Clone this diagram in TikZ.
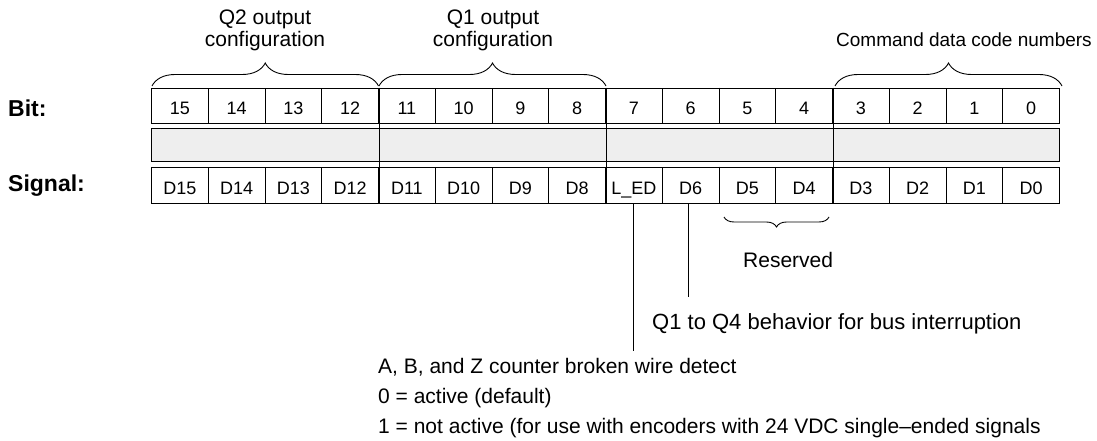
\documentclass[tikz,border=0pt]{standalone}
\usepackage{fontspec}
\setmainfont{Liberation Sans}
\usetikzlibrary{decorations.pathreplacing}
\definecolor{barfill}{HTML}{EEEEEE}
\begin{document}
\begin{tikzpicture}[x=1pt,y=-1pt,
  cell/.style={draw, line width=0.9pt, minimum width=56.75pt, minimum height=35pt, inner sep=0pt,
    text height=19pt, text depth=0pt, font=\fontsize{18}{20}\selectfont},
  rowlab/.style={inner sep=0pt, anchor=base west, font=\bfseries\fontsize{23}{24}\selectfont},
  toplab/.style={inner sep=0pt, align=center, anchor=south, font=\fontsize{21}{22}\selectfont},
  txt/.style={inner sep=0pt, anchor=base west, font=\fontsize{21}{22}\selectfont},
  brc/.style={decorate, decoration={brace, amplitude=#1}, line width=0.9pt},
  rule/.style={line width=0.9pt}]
\useasboundingbox (0,0) rectangle (1097,441);

% row labels
\node[rowlab] (bitlab) at (8,117) {Bit:};
\node[rowlab] (siglab) at (8,191) {Signal:};

% gray bar
\node[draw, line width=0.9pt, fill=barfill, minimum width=908pt, minimum height=33pt, inner sep=0pt] (bar) at (605.5,144.5) {};

% bit cells and signal cells
\foreach \b/\t [count=\k from 0] in {15/D15,14/D14,13/D13,12/D12,11/D11,10/D10,9/D9,8/D8,7/L\_ED,6/D6,5/D5,4/D4,3/D3,2/D2,1/D1,0/D0} {
  \node[cell] (b\b) at ({151.5+56.75*(\k+0.5)},105.5) {\b};
  \node[cell, minimum height=36pt] (s\b) at ({151.5+56.75*(\k+0.5)},185) {\t};
}

% group dividers through all rows
\draw[rule] (b12.north east) -- (s12.south east);
\draw[rule] (b8.north east) -- (s8.south east);
\draw[rule] (b4.north east) -- (s4.south east);
\draw[line width=1.6pt] (b6.north east) -- (b6.south east);
\draw[line width=1.6pt] (s6.north east) -- (s6.south east);

% top braces
\draw[brc=23pt] (152,86) -- (378.5,86);
\draw[brc=23pt] (379,86) -- (606,86);
\draw[brc=23pt] (835,86) -- (1062,86);
\node[toplab] (q2lab) at (265,51.5) {Q2 output\\configuration};
\node[toplab] (q1lab) at (493,51.5) {Q1 output\\configuration};
\node[inner sep=0pt, anchor=base west, font=\fontsize{19}{20}\selectfont] (cmdlab) at (836,47) {Command data code numbers};

% reserved brace
\draw[brc=10pt] (829,217) -- (724,217);
\node[txt] (reslab) at (743,267) {Reserved};

% leader lines
\coordinate (ledend) at (s7.south |- 0,351);
\coordinate (d6end) at (s6.south |- 0,297);
\draw[rule] (s7.south) -- (ledend);
\draw[rule] ([xshift=-2.5pt]s6.south) -- ([xshift=-2.5pt]d6end);

\node[txt, font=\fontsize{22}{24}\selectfont] (q14lab) at (652,329) {Q1 to Q4 behavior for bus interruption};
\node[txt] (ln1) at (378,373) {A, B, and Z counter broken wire detect};
\node[txt] (ln2) at (378,403) {0 = active (default)};
\node[txt] (ln3) at (378,433) {1 = not active (for use with encoders with 24 VDC single–ended signals};
\end{tikzpicture}
\end{document}
